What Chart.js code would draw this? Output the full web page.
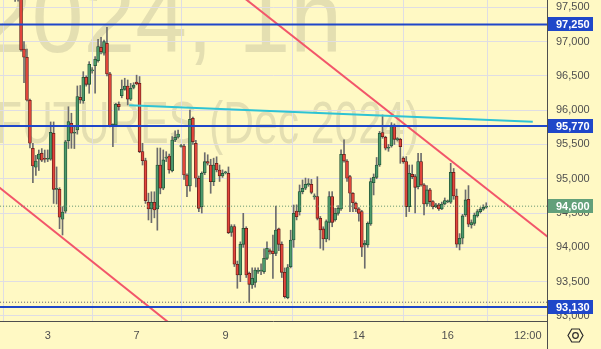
<!DOCTYPE html>
<html><head><meta charset="utf-8">
<script src="https://cdn.jsdelivr.net/npm/chart.js@4.4.0/dist/chart.umd.min.js"></script>
<style>html,body{margin:0;padding:0;background:#fff9c4;overflow:hidden}canvas{display:block}</style>
</head><body>
<canvas id="c" width="601" height="349"></canvas>
<script>
// ---- data ----
const firstSlot = -16;
const opens = [
97850,97820,97790,97760,97740,97700,97680,97650,96890,96771,
96144,95444,95167,95284,95371,95290,95284,95284,95663,94846,
94846,94409,94526,95555,95808,95663,95711,96187,96134,96479,
96377,96572,96649,96721,96917,96829,96975,96528,95769,95784,
96086,96211,96304,96352,96159,96333,96411,96392,95395,95264,
94657,94559,94657,94559,95200,94861,95300,95332,95118,95565,
95605,95470,95478,95055,94894,95882,95517,95007,94594,95089,
95249,95200,94957,95226,95128,95040,95085,95080,94219,94302,
93753,93597,94044,94277,93621,93451,93490,93650,93655,93646,
93840,93940,93947,93913,94268,94044,93636,93266,93719,94107,
94530,94520,94812,94861,94915,94919,94735,94739,94423,94268,
94122,94365,94739,94399,94496,94560,95357,95259,95031,94788,
94642,94560,94521,94035,94035,94341,94943,95021,95201,95673,
95604,95444,95478,95784,95570,95575,95300,95250,94594,95065,
95031,94885,95250,94910,94632,94837,94667,94594,94618,94560,
94632,94665,94657,95094,94749,94045,94132,94472,94701,94326,
94350,94458,94521,94555,94584];
const highs = [
97900,97880,97860,97830,97800,97760,97740,97690,96998,96890,
96160,95517,95340,95419,95440,95419,95420,95828,95828,95172,
94870,94593,95560,96050,95955,95750,96353,96360,96561,96500,
96707,96620,96780,97033,97062,97020,97208,96550,95800,96100,
96120,96440,96465,96440,96390,96400,96510,96490,95517,95300,
94790,94810,94810,95448,95448,95420,95395,95360,95613,95700,
95711,95500,95500,95070,96002,95900,95560,95040,95100,95380,
95350,95284,95300,95320,95200,95130,95110,95172,94330,94330,
93800,94080,94496,94300,93640,93700,93700,93700,93760,93980,
94080,93980,94180,94600,94280,94080,93700,93750,94250,94617,
94620,94909,94982,95010,95000,94990,94780,95030,94450,94300,
94400,94812,94812,94570,94610,95420,95566,95280,95050,94800,
94660,94580,94540,94100,94370,95010,95070,95310,95690,95930,
95620,95500,95818,95800,95600,95590,95320,95323,95200,95201,
95060,95371,95371,94930,94900,94860,94680,94640,94640,94660,
94720,94690,95225,95150,94850,94200,94480,94837,94900,94400,
94500,94550,94580,94620,94650];
const lows = [
97780,97760,97720,97700,97660,97585,97590,96860,96400,96130,
95448,94943,95050,95120,95250,95240,95250,95270,94640,94632,
94272,94180,94500,95440,95444,95440,95650,96100,96100,96350,
96246,96540,96246,96700,96820,96800,96500,95755,95467,95770,
96000,96180,96290,96076,96140,96310,96370,95380,95200,94640,
94399,94360,94430,94250,94780,94840,95250,95080,95100,95540,
95590,95460,94990,94739,94820,95500,94880,94520,94500,95060,
95200,94788,94900,95100,94960,95020,95070,94200,94160,93720,
93403,93500,94000,93560,93199,93400,93420,93620,93600,93620,
93820,93900,93548,93880,93950,93560,93260,93250,93700,94000,
94400,94470,94780,94840,94890,94780,94700,94400,93986,93960,
94080,94107,94300,94380,94470,94540,95240,94960,94521,94520,
94520,94380,93865,93695,94000,94320,94764,95000,95180,95590,
95420,95400,95460,95500,95550,95225,95225,94448,94521,95000,
94500,94850,94890,94472,94600,94600,94560,94580,94540,94550,
94620,94650,94640,94700,94000,93962,94050,94450,94300,94280,
94320,94440,94500,94540,94570];
const closes = [
97820,97790,97760,97740,97700,97680,97650,96877,96771,96144,
95517,95186,95259,95360,95269,95284,95290,95678,94846,94850,
94438,94515,95540,95832,95663,95670,96197,96148,96479,96377,
96669,96586,96742,96926,96853,96998,96528,95769,95794,96086,
96051,96304,96352,96159,96319,96366,96381,95395,95264,94680,
94559,94657,94545,95200,94861,95274,95310,95128,95565,95605,
95653,95478,95055,94894,95867,95540,95007,94569,95080,95249,
95226,94957,95200,95128,95040,95080,95090,94214,94302,93753,
93597,94044,94277,93597,93461,93548,93670,93655,93660,93840,
93986,93937,93908,94253,94044,93636,93281,93704,94107,94496,
94448,94812,94861,94919,94919,94802,94739,94423,94253,94122,
94375,94739,94365,94496,94569,95357,95259,95007,94788,94652,
94560,94496,94001,94059,94351,94958,95021,95201,95663,95614,
95444,95459,95784,95575,95575,95468,95250,94594,95080,95031,
94875,95250,94910,94632,94837,94667,94594,94618,94560,94632,
94681,94667,95094,94749,94045,94132,94458,94691,94336,94360,
94472,94521,94555,94584,94603];

const tickSlots = [0, 30, 60, 105, 135, 162];
const tickLabels = ['3', '7', '9', '14', '16', '12:00'];
const priceTicks = [93000, 93500, 94000, 94500, 95000, 95500, 96000, 96500, 97000, 97500];
const levelPrices = [97250, 95770, 93130];
const lastPrice = 94600;
const lowMarkPrice = 93200;
const cyanLineX = [27.5, 163.7];
const cyanLineY = [96071, 95832];
const upperTrendX = [60, 170];
const upperTrendY = [97850, 94110];
const lowerTrendX = [-17, 45];
const lowerTrendY = [94895, 92760];
const watermarkTop = '2024, 1h';
const watermarkSub = 'FUTURES (Dec 2024)';

// ---- view ----
const X_MIN = -16.1, X_MAX = 168.5;
const Y_MIN = 92926, Y_MAX = 97606;
const BG = '#fff9c4';
const UP = '#4c9a6c', UP_B = '#1f4f33';
const DN = '#e2453b', DN_B = '#5e1b16';
const BLUE = '#1f47c9';
const FONT = '"Liberation Sans", Arial, sans-serif';

const slotX = k => firstSlot + k;
const isUp = k => closes[k] >= opens[k];

const pts = (xs, ys) => xs.map((x, j) => ({x, y: ys[j]}));
const hline = v => [{x: X_MIN - 2, y: v}, {x: X_MAX + 2, y: v}];

const fmt = v => String(Math.round(v)).replace(/\B(?=(\d{3})+(?!\d))/g, ',');

const bgPlugin = {
  id: 'bg',
  beforeDraw(chart) {
    const {ctx, chartArea: a} = chart;
    ctx.save();
    ctx.fillStyle = BG;
    ctx.fillRect(0, 0, chart.width, chart.height);
    ctx.beginPath();
    ctx.rect(a.left, a.top, a.right - a.left, a.bottom - a.top);
    ctx.clip();
    ctx.fillStyle = 'rgba(110,110,95,0.19)';
    ctx.textBaseline = 'alphabetic';
    ctx.font = '100px ' + FONT;
    ctx.save();
    ctx.translate(-20, 52);
    ctx.scale(0.93, 1);
    ctx.fillText(watermarkTop, 0, 0);
    ctx.restore();
    ctx.font = '60px ' + FONT;
    ctx.save();
    ctx.translate(-4, 143);
    ctx.scale(0.71, 1);
    ctx.fillText(watermarkSub, 0, 0);
    ctx.restore();
    ctx.restore();
  }
};

const overlayPlugin = {
  id: 'overlay',
  afterDraw(chart) {
    const {ctx, chartArea: a} = chart;
    const ys = chart.scales.y;
    ctx.save();
    ctx.strokeStyle = '#4e4e4e';
    ctx.lineWidth = 1;
    ctx.beginPath();
    ctx.moveTo(a.right + 0.5, 0); ctx.lineTo(a.right + 0.5, chart.height);
    ctx.moveTo(0, a.bottom + 0.5); ctx.lineTo(a.right, a.bottom + 0.5);
    ctx.stroke();
    const box = (v, color) => {
      const y = ys.getPixelForValue(v);
      ctx.fillStyle = color;
      ctx.fillRect(a.right + 1, Math.round(y) - 7, 45, 14);
      ctx.fillStyle = '#ffffff';
      ctx.font = 'bold 11px ' + FONT;
      ctx.textBaseline = 'middle';
      ctx.textAlign = 'left';
      ctx.fillText(fmt(v), a.right + 9, Math.round(y) + 0.5);
    };
    levelPrices.forEach(v => box(v, BLUE));
    box(lastPrice, '#62a07a');
    const cx = 575.5, cy = 335.5, r = 7.5;
    ctx.strokeStyle = '#2b2b2b';
    ctx.lineWidth = 1.2;
    ctx.beginPath();
    for (let j = 0; j < 6; j++) {
      const t = Math.PI / 3 * j;
      const px = cx + r * Math.cos(t), py = cy + r * Math.sin(t);
      j ? ctx.lineTo(px, py) : ctx.moveTo(px, py);
    }
    ctx.closePath();
    ctx.stroke();
    ctx.beginPath();
    ctx.arc(cx, cy, 2.8, 0, Math.PI * 2);
    ctx.stroke();
    ctx.restore();
  }
};

const lineDs = (data, color, width, dash) => ({
  type: 'line', data, borderColor: color, borderWidth: width,
  borderDash: dash || [], pointRadius: 0, fill: false, order: 0, tension: 0
});

new Chart(document.getElementById('c'), {
  type: 'bar',
  data: {
    datasets: [
      lineDs(hline(lastPrice), '#5d8f6e', 1, [1, 2]),
      lineDs(hline(lowMarkPrice), '#5b5b6b', 1, [1, 2]),
      ...levelPrices.map(v => lineDs(hline(v), BLUE, 2)),
      lineDs(pts(cyanLineX, cyanLineY), '#2ec3d4', 2),
      lineDs(pts(upperTrendX, upperTrendY), '#f2566a', 2),
      lineDs(pts(lowerTrendX, lowerTrendY), '#f2566a', 2),
      {
        type: 'bar', order: 1, grouped: false,
        data: opens.map((o, k) => ({x: slotX(k), y: [o, closes[k]]})),
        backgroundColor: c => isUp(c.dataIndex) ? UP : DN,
        borderColor: c => isUp(c.dataIndex) ? UP_B : DN_B,
        borderWidth: 0.8, borderSkipped: false,
        barPercentage: 1, categoryPercentage: 1, maxBarThickness: 3, minBarLength: 1
      },
      {
        type: 'bar', order: 2, grouped: false,
        data: lows.map((l, k) => ({x: slotX(k), y: [l, highs[k]]})),
        backgroundColor: '#6c6c6c', borderWidth: 0,
        barPercentage: 1, categoryPercentage: 1, maxBarThickness: 1
      }
    ]
  },
  options: {
    responsive: false, animation: false, devicePixelRatio: 1,
    layout: {padding: 0},
    plugins: {legend: {display: false}, tooltip: {enabled: false}},
    scales: {
      x: {
        type: 'linear', min: X_MIN, max: X_MAX, offset: false,
        grid: {color: '#dfdde4', drawTicks: false},
        border: {display: false},
        afterBuildTicks: s => { s.ticks = tickSlots.map(v => ({value: v})); },
        ticks: {
          autoSkip: false, maxRotation: 0, padding: 8, color: '#4f4f4f',
          font: {family: FONT, size: 11},
          callback: (v, i) => tickLabels[i]
        },
        afterFit: s => { s.height = 28; s.paddingLeft = 0; s.paddingRight = 0; }
      },
      y: {
        type: 'linear', position: 'right', min: Y_MIN, max: Y_MAX,
        grid: {color: '#dfdde4', drawTicks: false},
        border: {display: false},
        afterBuildTicks: s => { s.ticks = priceTicks.map(v => ({value: v})); },
        ticks: {
          autoSkip: false, padding: 9, color: '#4f4f4f',
          font: {family: FONT, size: 11},
          callback: (v, i) => fmt(priceTicks[i])
        },
        afterFit: s => { s.width = 54; s.paddingTop = 0; s.paddingBottom = 0; }
      }
    }
  },
  plugins: [bgPlugin, overlayPlugin]
});
</script>
</body></html>
